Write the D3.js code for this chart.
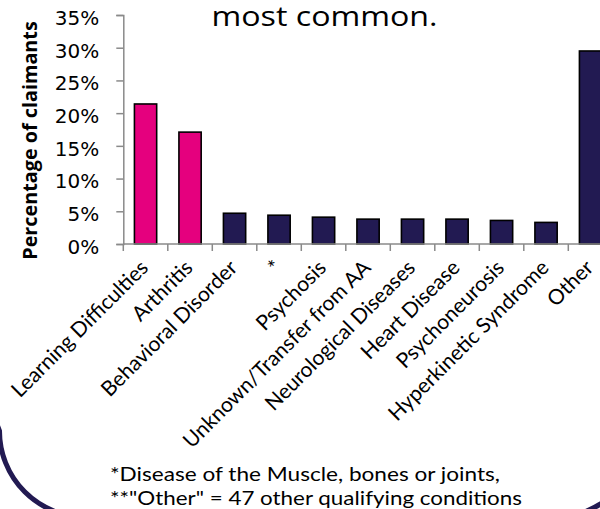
<!DOCTYPE html>
<html>
<head>
<meta charset="utf-8">
<script src="https://cdn.jsdelivr.net/npm/d3@7"></script>
<style>
  html, body { margin: 0; padding: 0; background: #fff; }
  svg { display: block; }
</style>
</head>
<body>
<svg id="chart" width="600" height="509"></svg>
<script>
// Share of claimants by qualifying condition
const categories = [
  "Learning Difficulties", "Arthritis", "Behavioral Disorder", "*", "Psychosis",
  "Unknown/Transfer from AA", "Neurological Diseases", "Heart Disease",
  "Psychoneurosis", "Hyperkinetic Syndrome", "Other"
];
const values = [0.214, 0.171, 0.047, 0.044, 0.041, 0.038, 0.038, 0.038, 0.036, 0.033, 0.295];
const highlighted = ["Learning Difficulties", "Arthritis"];
const yTicks = [0, 0.05, 0.10, 0.15, 0.20, 0.25, 0.30, 0.35];
const titleText = "most common.";
const yTitle = "Percentage of claimants";
const footnotes = [
  "*Disease of the Muscle, bones or joints,",
  "**\"Other\" = 47 other qualifying conditions"
];

const svg = d3.select("#chart");
const PINK = "#e5007e", NAVY = "#221a52", AXIS = "#8a8a8a";

const x = d3.scaleBand()
  .domain(categories)
  .range([123.3, 612.8])
  .paddingInner(0.5)
  .paddingOuter(0.25);

const y = d3.scaleLinear().domain([0, 0.35]).range([244, 15]);

// frame of the slide panel behind the chart
svg.append("path")
  .attr("d", "M -20,380 L -0.5,431 A 86 86 0 0 0 85.5,517 L 555,517 A 86 86 0 0 0 641,431 L 660,380")
  .attr("fill", "none")
  .attr("stroke", NAVY)
  .attr("stroke-width", 5);

// title (last line)
svg.append("text")
  .attr("x", 211.5).attr("y", 26)
  .attr("font-family", "Open Sans, sans-serif")
  .attr("font-size", 28)
  .attr("textLength", 226).attr("lengthAdjust", "spacingAndGlyphs")
  .attr("fill", "#000")
  .text(titleText);

// bars
svg.append("g").selectAll("rect")
  .data(categories.map((c, i) => ({ c, v: values[i] })))
  .join("rect")
  .attr("x", d => x(d.c))
  .attr("width", x.bandwidth())
  .attr("y", d => y(d.v))
  .attr("height", d => y(0) - y(d.v))
  .attr("fill", d => highlighted.includes(d.c) ? PINK : NAVY)
  .attr("stroke", "#000")
  .attr("stroke-width", 1.6);

// y axis
const yAxis = svg.append("g")
  .attr("transform", "translate(123.3,0)")
  .call(d3.axisLeft(y).tickValues(yTicks).tickFormat(d3.format(".0%")).tickSizeOuter(0).tickSize(7).tickPadding(17));
yAxis.select(".domain").attr("stroke", AXIS).attr("stroke-width", 1.5);
yAxis.selectAll(".tick line").attr("stroke", AXIS).attr("stroke-width", 1.5);
yAxis.selectAll(".tick text")
  .attr("font-family", "DejaVu Sans, sans-serif")
  .attr("font-size", 20)
  .attr("fill", "#000")
  .attr("dy", "0.47em");

// x axis: baseline with ticks between categories
const xAxisG = svg.append("g");
xAxisG.append("line")
  .attr("x1", 123.3).attr("x2", 612.8)
  .attr("y1", y(0)).attr("y2", y(0))
  .attr("stroke", AXIS).attr("stroke-width", 1.5);
xAxisG.selectAll("line.tk")
  .data(categories)
  .join("line")
  .attr("class", "tk")
  .attr("x1", d => x(d) - x.step() * 0.25)
  .attr("x2", d => x(d) - x.step() * 0.25)
  .attr("y1", y(0)).attr("y2", y(0) + 7)
  .attr("stroke", AXIS).attr("stroke-width", 1.5);

// category labels
xAxisG.selectAll("text")
  .data(categories)
  .join("text")
  .attr("transform", d => `translate(${x(d) + x.bandwidth() / 2 + 4},${y(0) + 25}) rotate(-45)`)
  .attr("text-anchor", "end")
  .attr("font-family", "Lato, sans-serif")
  .attr("font-size", 21)
  .attr("fill", "#000")
  .text(d => d);

// y axis title
svg.append("text")
  .attr("transform", "translate(37,140.5) rotate(-90)")
  .attr("text-anchor", "middle")
  .attr("font-family", "Open Sans, sans-serif")
  .attr("font-weight", "bold")
  .attr("font-size", 19.8)
  .attr("fill", "#000")
  .text(yTitle);

// footnotes
const noteWidths = [390, 412];
svg.append("g").selectAll("text")
  .data(footnotes)
  .join("text")
  .attr("x", 110)
  .attr("y", (d, i) => 481 + i * 23.5)
  .attr("font-family", "Lato, sans-serif")
  .attr("font-size", 20)
  .attr("textLength", (d, i) => noteWidths[i])
  .attr("lengthAdjust", "spacingAndGlyphs")
  .attr("fill", "#000")
  .text(d => d);
</script>
</body>
</html>
